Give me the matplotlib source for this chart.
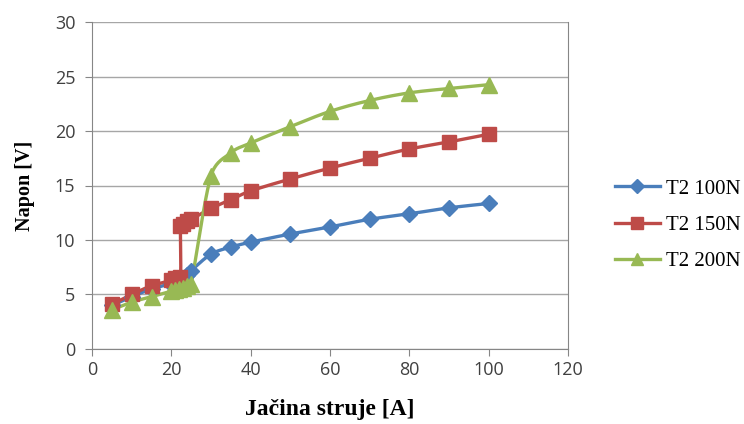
import numpy as np
import matplotlib
matplotlib.use("Agg")
import matplotlib.pyplot as plt

# ---- data ----
x_100 = [5, 10, 15, 20, 21, 22, 23, 24, 25, 30, 35, 40, 50, 60, 70, 80, 90, 100]
y_100 = [4.0, 4.8, 5.5, 6.0, 6.1, 6.3, 6.5, 6.8, 7.2, 8.7, 9.35, 9.8, 10.55, 11.2, 11.9, 12.4, 12.95, 13.35]

x_150 = [5, 10, 15, 20, 21, 22.3, 22.3, 23, 24, 25, 30, 35, 40, 50, 60, 70, 80, 90, 100]
y_150 = [4.1, 5.0, 5.8, 6.3, 6.5, 6.6, 11.3, 11.5, 11.7, 11.9, 12.9, 13.7, 14.5, 15.6, 16.6, 17.5, 18.35, 19.0, 19.7]

x_200 = [5, 10, 15, 20, 21, 22, 23, 24, 25, 30, 35, 40, 50, 60, 70, 80, 90, 100]
y_200 = [3.6, 4.3, 4.8, 5.3, 5.4, 5.5, 5.6, 5.8, 6.0, 15.9, 18.0, 18.9, 20.4, 21.8, 22.8, 23.5, 23.9, 24.25]

labels = ["T2 100N", "T2 150N", "T2 200N"]
colors = ["#4A7EBB", "#BE4B48", "#98B954"]
markers = ["D", "s", "^"]
msizes = [8.5, 10, 11]

xticks = [0, 20, 40, 60, 80, 100, 120]
yticks = [0, 5, 10, 15, 20, 25, 30]


def smooth(xs, ys, sx=3.97, sy=10.9, n=20, t=0.5):
    """Catmull-Rom style smoothing (like Excel smoothed lines)."""
    P = np.column_stack([np.array(xs) * sx, np.array(ys) * sy])
    out = [P[0]]
    for i in range(len(P) - 1):
        p0 = P[i - 1] if i > 0 else P[i]
        p1 = P[i]
        p2 = P[i + 1]
        p3 = P[i + 2] if i + 2 < len(P) else P[i + 1]
        seglen = np.linalg.norm(p2 - p1)
        if seglen == 0:
            continue
        d1 = (p2 - p0) * t / 3
        d2 = (p3 - p1) * t / 3
        for d in (d1, d2):
            nd = np.linalg.norm(d)
            if nd > seglen / 2:
                d *= (seglen / 2) / nd
        c1 = p1 + d1
        c2 = p2 - d2
        ts = np.linspace(0, 1, n)[1:]
        for tt in ts:
            b = ((1 - tt) ** 3) * p1 + 3 * ((1 - tt) ** 2) * tt * c1 + 3 * (1 - tt) * tt ** 2 * c2 + tt ** 3 * p2
            out.append(b)
    out = np.array(out)
    return out[:, 0] / sx, out[:, 1] / sy


fig = plt.figure(figsize=(7.44, 4.24), dpi=100)
ax = fig.add_axes([0.1237, 0.1769, 0.6397, 0.7712])

series = [(x_100, y_100), (x_150, y_150), (x_200, y_200)]
for (xs, ys), lab, c, m, ms in zip(series, labels, colors, markers, msizes):
    sx_, sy_ = smooth(xs, ys)
    ax.plot(sx_, sy_, color=c, lw=2.4, solid_capstyle="round", zorder=2)
    ax.plot(xs, ys, linestyle="none", marker=m, color=c, ms=ms, zorder=3)
    ax.plot([], [], color=c, lw=2.4, marker=m, ms=ms * 0.8, label=lab)

ax.set_xlim(0, 120)
ax.set_ylim(0, 30)
ax.set_xticks(xticks)
ax.set_yticks(yticks)
ax.grid(axis="y", color="#A6A6A6", lw=1.0)
ax.set_axisbelow(True)
ax.spines["top"].set_visible(False)
for s in ["left", "bottom", "right"]:
    ax.spines[s].set_color("#868686")
ax.tick_params(axis="both", direction="out", length=5, color="#868686",
               labelsize=13, labelcolor="#404040")
ax.tick_params(axis="y", pad=7)
ax.tick_params(axis="x", pad=4)
for lbl in ax.get_xticklabels() + ax.get_yticklabels():
    lbl.set_family("Open Sans")

ax.set_xlabel("Jačina struje [A]", family="Liberation Serif", fontweight="bold", fontsize=17, labelpad=14)
ax.set_ylabel("Napon [V]", family="Liberation Serif", fontweight="bold", fontsize=14.5, labelpad=14)

leg = fig.legend(loc="center left", bbox_to_anchor=(0.826, 0.469), frameon=False,
                 prop={"family": "Liberation Serif", "size": 15}, handlelength=2.2,
                 labelspacing=0.8, handletextpad=0.25, borderpad=0, borderaxespad=0)

fig.savefig("out.png", dpi=100)
